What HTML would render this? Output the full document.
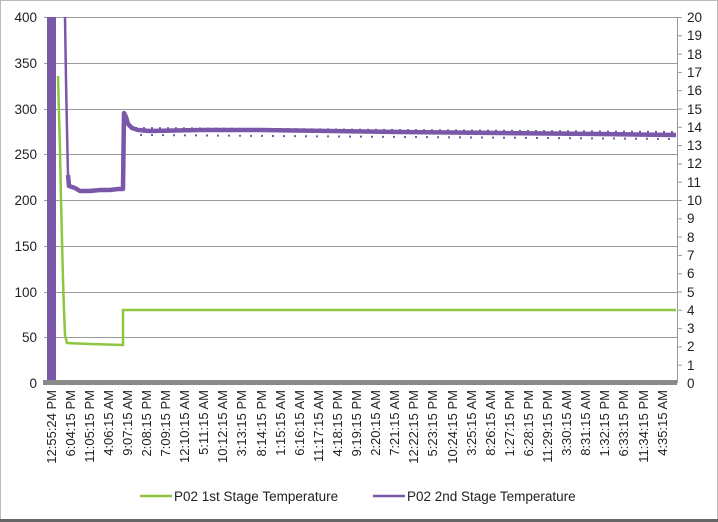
<!DOCTYPE html>
<html><head><meta charset="utf-8"><style>
html,body{margin:0;padding:0;background:#fff;}
svg{display:block;font-family:"Liberation Sans",sans-serif;}
</style></head><body>
<svg width="718" height="522" viewBox="0 0 718 522" xmlns="http://www.w3.org/2000/svg">
<rect x="0.5" y="0.5" width="717" height="521" fill="#fff" stroke="#bbb"/>
<rect x="0" y="519" width="718" height="3" fill="#666"/>
<g stroke="#999" stroke-width="1">
<line x1="44" y1="17.5" x2="677" y2="17.5"/>
<line x1="44" y1="63.5" x2="677" y2="63.5"/>
<line x1="44" y1="109.5" x2="677" y2="109.5"/>
<line x1="44" y1="154.5" x2="677" y2="154.5"/>
<line x1="44" y1="200.5" x2="677" y2="200.5"/>
<line x1="44" y1="246.5" x2="677" y2="246.5"/>
<line x1="44" y1="292.5" x2="677" y2="292.5"/>
<line x1="44" y1="337.5" x2="677" y2="337.5"/>
<line x1="677.5" y1="17" x2="677.5" y2="383"/>
</g>
<g stroke="#999">
<line x1="677" y1="17.5" x2="682" y2="17.5"/><line x1="677" y1="35.8" x2="682" y2="35.8"/><line x1="677" y1="54.1" x2="682" y2="54.1"/><line x1="677" y1="72.4" x2="682" y2="72.4"/><line x1="677" y1="90.7" x2="682" y2="90.7"/><line x1="677" y1="109" x2="682" y2="109"/><line x1="677" y1="127.3" x2="682" y2="127.3"/><line x1="677" y1="145.6" x2="682" y2="145.6"/><line x1="677" y1="163.9" x2="682" y2="163.9"/><line x1="677" y1="182.2" x2="682" y2="182.2"/><line x1="677" y1="200.5" x2="682" y2="200.5"/><line x1="677" y1="218.8" x2="682" y2="218.8"/><line x1="677" y1="237.1" x2="682" y2="237.1"/><line x1="677" y1="255.4" x2="682" y2="255.4"/><line x1="677" y1="273.7" x2="682" y2="273.7"/><line x1="677" y1="292" x2="682" y2="292"/><line x1="677" y1="310.3" x2="682" y2="310.3"/><line x1="677" y1="328.6" x2="682" y2="328.6"/><line x1="677" y1="346.9" x2="682" y2="346.9"/><line x1="677" y1="365.2" x2="682" y2="365.2"/>
</g>
<g font-size="13.5" fill="#222" text-anchor="end">
<text x="37" y="22">400</text><text x="37" y="68">350</text><text x="37" y="114">300</text><text x="37" y="159">250</text><text x="37" y="205">200</text><text x="37" y="251">150</text><text x="37" y="297">100</text><text x="37" y="342">50</text><text x="37" y="388">0</text>
</g>
<g font-size="13.5" fill="#222">
<text x="687" y="22">20</text><text x="687" y="40">19</text><text x="687" y="59">18</text><text x="687" y="77">17</text><text x="687" y="95">16</text><text x="687" y="114">15</text><text x="687" y="132">14</text><text x="687" y="150">13</text><text x="687" y="168">12</text><text x="687" y="187">11</text><text x="687" y="205">10</text><text x="687" y="223">9</text><text x="687" y="242">8</text><text x="687" y="260">7</text><text x="687" y="278">6</text><text x="687" y="297">5</text><text x="687" y="315">4</text><text x="687" y="333">3</text><text x="687" y="351">2</text><text x="687" y="370">1</text><text x="687" y="388">0</text>
</g>
<!-- green series -->
<polyline fill="none" stroke="#8dc63f" stroke-width="2.5" points="49,383 49,78 50,120 51,383"/>
<polyline fill="none" stroke="#8dc63f" stroke-width="2.5" points="58,76 59,115 60,150 61,200 62,240 63,280 64,310 65,335 67,343 90,344 123,345 123,310 676,310"/>
<!-- purple series -->
<rect x="47" y="17" width="9" height="366" fill="#7a57a8"/>
<polyline fill="none" stroke="#7a57a8" stroke-width="2.5" points="65,17 66,80 67,130 68,175"/>
<polyline fill="none" stroke="#7a57a8" stroke-width="4.5" stroke-linejoin="round" points="68,175 69,186 75,188 80,191 90,191 100,190 110,190 118,189 123,189 124,113 126,117 128,124 132,128 138,130 150,131 200,130 260,130 330,131 400,132 500,133 600,134 676,135"/>
<polyline fill="none" stroke="#7a57a8" stroke-width="2" stroke-dasharray="2 6" points="135,128 676,132"/>
<polyline fill="none" stroke="#7a57a8" stroke-width="2" stroke-dasharray="2 9" points="140,135 676,139"/>
<rect x="43" y="380" width="634" height="5" fill="#8a8a8a"/>
<g font-size="13" fill="#222" text-anchor="end">
<text transform="translate(56,390) rotate(-90)">12:55:24 PM</text>
<text transform="translate(75,390) rotate(-90)">6:04:15 PM</text>
<text transform="translate(94,390) rotate(-90)">11:05:15 PM</text>
<text transform="translate(113,390) rotate(-90)">4:06:15 AM</text>
<text transform="translate(132,390) rotate(-90)">9:07:15 AM</text>
<text transform="translate(151,390) rotate(-90)">2:08:15 PM</text>
<text transform="translate(170,390) rotate(-90)">7:09:15 PM</text>
<text transform="translate(189,390) rotate(-90)">12:10:15 AM</text>
<text transform="translate(208,390) rotate(-90)">5:11:15 AM</text>
<text transform="translate(227,390) rotate(-90)">10:12:15 AM</text>
<text transform="translate(246,390) rotate(-90)">3:13:15 PM</text>
<text transform="translate(266,390) rotate(-90)">8:14:15 PM</text>
<text transform="translate(285,390) rotate(-90)">1:15:15 AM</text>
<text transform="translate(304,390) rotate(-90)">6:16:15 AM</text>
<text transform="translate(323,390) rotate(-90)">11:17:15 AM</text>
<text transform="translate(342,390) rotate(-90)">4:18:15 PM</text>
<text transform="translate(361,390) rotate(-90)">9:19:15 PM</text>
<text transform="translate(380,390) rotate(-90)">2:20:15 AM</text>
<text transform="translate(399,390) rotate(-90)">7:21:15 AM</text>
<text transform="translate(418,390) rotate(-90)">12:22:15 PM</text>
<text transform="translate(437,390) rotate(-90)">5:23:15 PM</text>
<text transform="translate(457,390) rotate(-90)">10:24:15 PM</text>
<text transform="translate(476,390) rotate(-90)">3:25:15 AM</text>
<text transform="translate(495,390) rotate(-90)">8:26:15 AM</text>
<text transform="translate(514,390) rotate(-90)">1:27:15 PM</text>
<text transform="translate(533,390) rotate(-90)">6:28:15 PM</text>
<text transform="translate(552,390) rotate(-90)">11:29:15 PM</text>
<text transform="translate(571,390) rotate(-90)">3:30:15 AM</text>
<text transform="translate(590,390) rotate(-90)">8:31:15 AM</text>
<text transform="translate(609,390) rotate(-90)">1:32:15 PM</text>
<text transform="translate(628,390) rotate(-90)">6:33:15 PM</text>
<text transform="translate(648,390) rotate(-90)">11:34:15 PM</text>
<text transform="translate(667,390) rotate(-90)">4:35:15 AM</text>
</g>
<line x1="140" y1="496" x2="172" y2="496" stroke="#8dc63f" stroke-width="2.5"/>
<text x="174" y="501" font-size="13.5" fill="#222">P02 1st Stage Temperature</text>
<line x1="373" y1="496" x2="405" y2="496" stroke="#7a57a8" stroke-width="2.5"/>
<text x="407" y="501" font-size="13.5" fill="#222">P02 2nd Stage Temperature</text>
</svg>
</body></html>
